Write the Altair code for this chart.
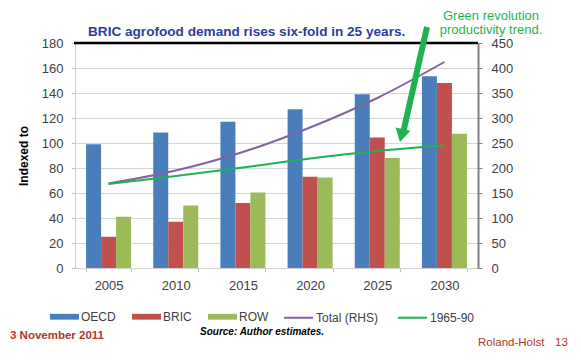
import altair as alt
import pandas as pd

# ---------------- data ----------------
years = ["2005", "2010", "2015", "2020", "2025", "2030"]
bar_series = ["OECD", "BRIC", "ROW"]
oecd = [99, 108.5, 117, 127, 139, 153.5]
bric = [25, 37, 52, 73, 104.5, 148]
row = [41, 50, 60.5, 72.5, 88, 107.5]

line_series = ["Total (RHS)", "1965-90"]
total_rhs = [169, 195, 232, 281, 340, 412]
trend_1965_90 = [168, 184, 201, 219, 234, 245]

left_ticks = list(range(0, 181, 20))
right_ticks = list(range(0, 451, 50))

bar_colors = ["#4A7EBB", "#C0504D", "#9BBB59"]
line_colors = ["#8064A2", "#1FB251"]

title_text = "BRIC agrofood demand rises six-fold in 25 years."
note_lines = ["Green revolution", "productivity trend."]

# ---------------- tables ----------------
bars_df = pd.DataFrame(
    [{"year": y, "series": s, "value": v}
     for s, vals in zip(bar_series, [oecd, bric, row])
     for y, v in zip(years, vals)]
)
lines_df = pd.DataFrame(
    [{"year": y, "series": s, "value": v}
     for s, vals in zip(line_series, [total_rhs, trend_1965_90])
     for y, v in zip(years, vals)]
)

FONT = "Liberation Sans"
GRAY = "#404040"
GREEN = "#1FB251"
RED = "#B0372B"

x_enc = alt.X(
    "year:N", sort=years, title=None,
    scale=alt.Scale(paddingInner=0.33, paddingOuter=0.165),
    axis=alt.Axis(labelAngle=0, tickBand="extent", tickSize=4, tickColor="#BFBFBF",
                  domainColor="#D0D0D0", labelPadding=7, labelFontSize=13,
                  labelColor=GRAY, labelFont=FONT, grid=False),
)

bars = alt.Chart(bars_df).mark_bar().encode(
    x=x_enc,
    xOffset=alt.XOffset("series:N", sort=bar_series),
    y=alt.Y("value:Q", scale=alt.Scale(domain=[0, 180]),
            axis=alt.Axis(values=left_ticks, title="Indexed to", titleFontWeight="bold",
                          titleFontSize=12, titleFont=FONT, titleColor="#000000",
                          titlePadding=11,
                          grid=True, gridColor="#D6D6D6", tickSize=4, tickColor="#BFBFBF",
                          domainColor="#D0D0D0", labelPadding=8, labelFontSize=13,
                          labelColor=GRAY, labelFont=FONT)),
    fill=alt.Fill("series:N", sort=bar_series,
                  scale=alt.Scale(domain=bar_series, range=bar_colors),
                  legend=alt.Legend(title=None, orient="none", legendX=-25, legendY=259,
                                    direction="horizontal",
                                    symbolType="M-1,-0.2H1V0.2H-1Z", symbolSize=841,
                                    symbolStrokeWidth=0, labelFontSize=12, labelFont=FONT,
                                    labelColor=GRAY, labelOffset=2, columnPadding=16,
                                    padding=0)),
)

lines = alt.Chart(lines_df).mark_line(strokeWidth=2, interpolate="monotone").encode(
    x=x_enc,
    y=alt.Y("value:Q", scale=alt.Scale(domain=[0, 450]),
            axis=alt.Axis(orient="right", values=right_ticks, title=None, grid=False,
                          tickSize=4, tickColor="#808080", domainColor="#808080",
                          domainWidth=2, labelPadding=9, labelFontSize=13,
                          labelColor=GRAY, labelFont=FONT)),
    stroke=alt.Stroke("series:N", sort=line_series,
                      scale=alt.Scale(domain=line_series, range=line_colors),
                      legend=alt.Legend(title=None, orient="none", legendX=208, legendY=259,
                                        direction="horizontal",
                                        symbolType="M-1,0H1", symbolSize=841,
                                        symbolStrokeWidth=2, labelFontSize=12, labelFont=FONT,
                                        labelColor=GRAY, labelOffset=2, columnPadding=15,
                                        padding=0)),
)

def one():
    return pd.DataFrame({"k": [0]})

def label(text, x, y, size, color, weight="normal", style="normal", align="left"):
    return alt.Chart(pd.DataFrame({"t": [text]})).mark_text(
        font=FONT, fontSize=size, color=color, fontWeight=weight, fontStyle=style,
        align=align, baseline="alphabetic",
    ).encode(x=alt.value(x), y=alt.value(y), text="t:N")

top_border = alt.Chart(one()).mark_rule(color="#000000", strokeWidth=2.5).encode(
    x=alt.value(-1), x2=alt.value(403), y=alt.value(0))

arrow_shaft = alt.Chart(one()).mark_rule(color=GREEN, strokeWidth=6, strokeCap="butt").encode(
    x=alt.value(352), y=alt.value(-16), x2=alt.value(328.5), y2=alt.value(88))
arrow_head = alt.Chart(one()).mark_point(shape="triangle-down", filled=True, size=230,
                                         angle=13, color=GREEN, opacity=1).encode(
    x=alt.value(326.5), y=alt.value(92.5))

title = label(title_text, 13, -7, 13.6, "#2E3D9C", weight="bold")
note1 = label(note_lines[0], 416, -23.5, 13, GREEN, align="center")
note2 = label(note_lines[1], 416, -9, 13, GREEN, align="center")
date = label("3 November 2011", -65, 296, 11.5, RED, weight="bold")
source = label("Source: Author estimates.", 125, 292, 10, "#000000", weight="bold", style="italic")
author = label("Roland-Holst", 403, 303, 11.5, RED)
page = label("13", 480, 303, 11.5, RED)

chart = alt.layer(
    bars, lines, top_border, arrow_shaft, arrow_head,
    title, note1, note2, date, source, author, page,
).resolve_scale(y="independent").properties(
    width=403, height=225,
    autosize=alt.AutoSizeParams(type="none"),
    padding={"left": 67, "top": 35, "right": 95, "bottom": 84},
).configure_view(stroke=None).configure(background="#FFFFFF")

chart.save("out.html", embed_options={"renderer": "svg", "actions": False})
